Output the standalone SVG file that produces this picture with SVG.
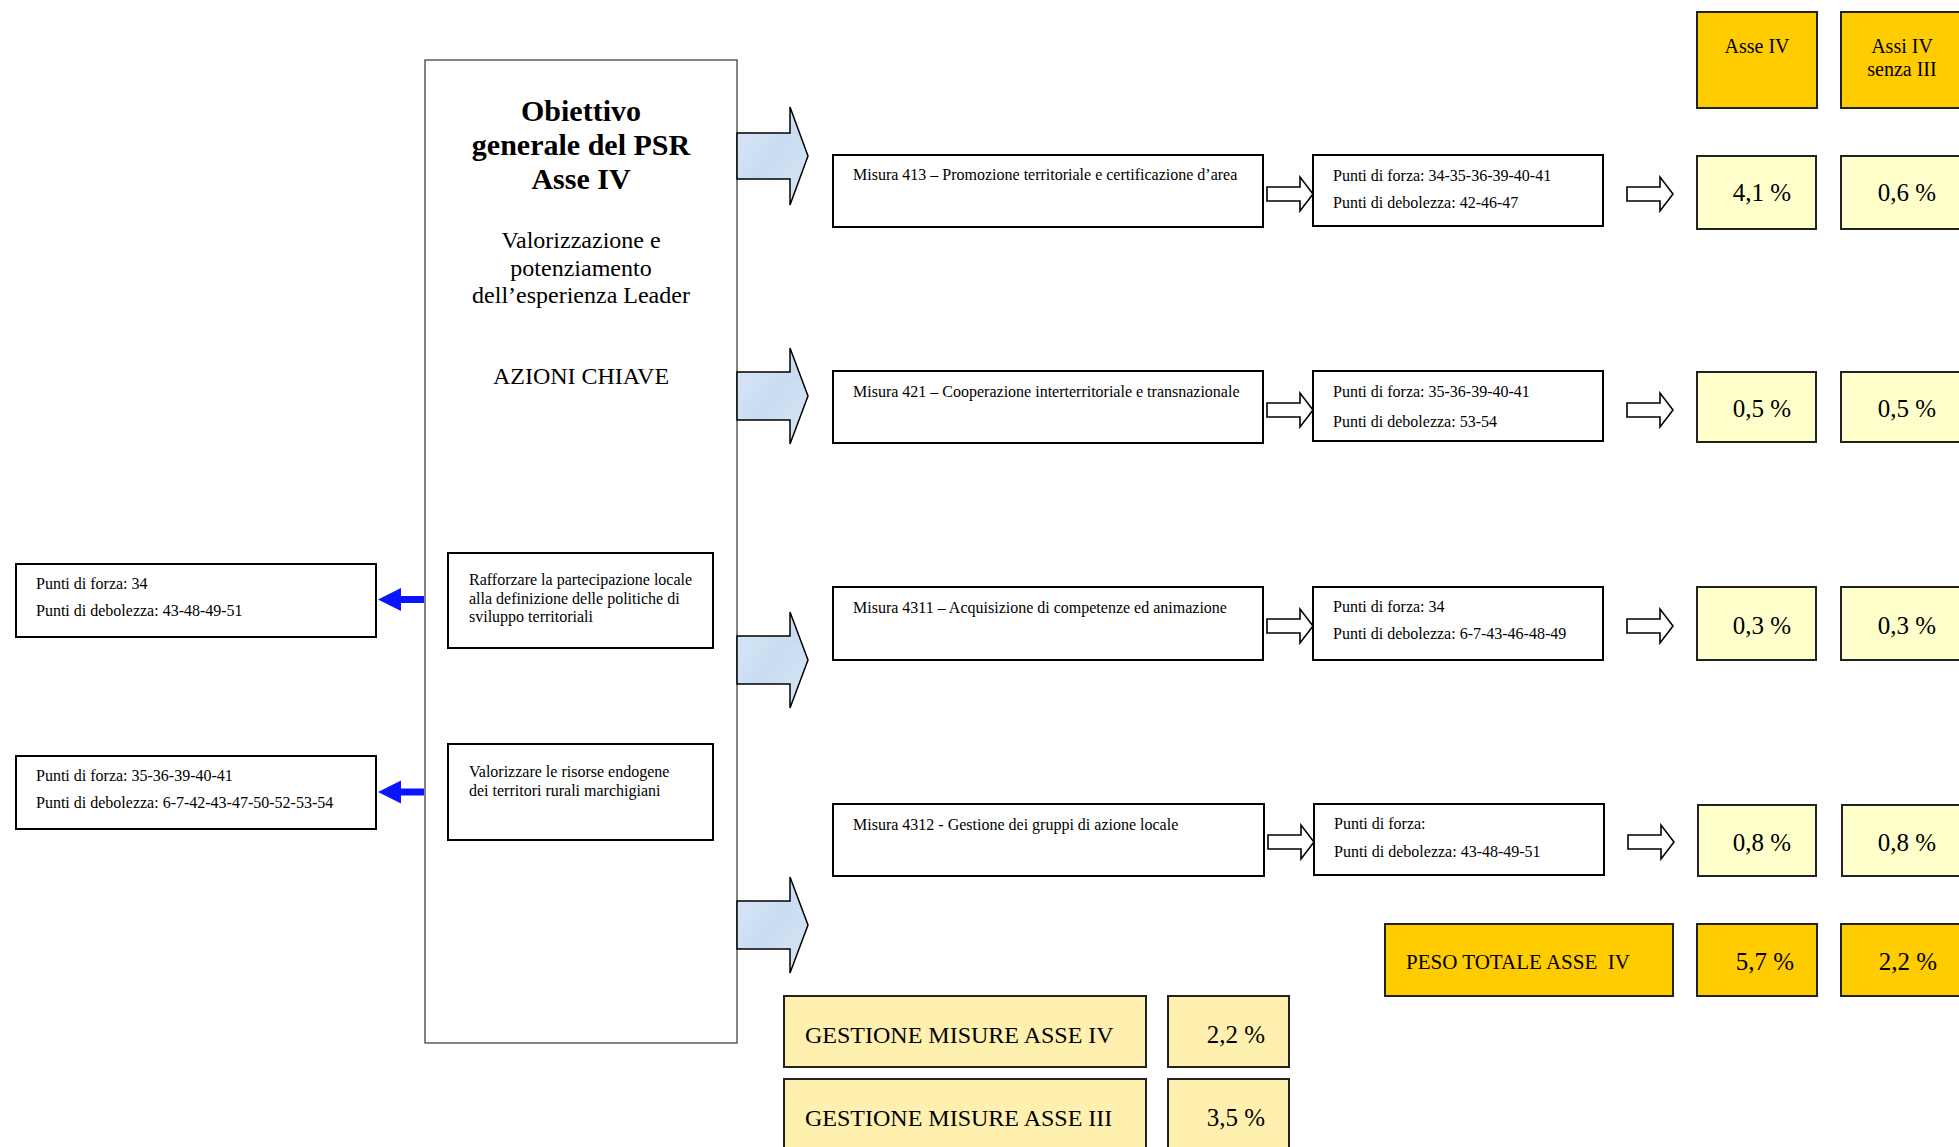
<svg xmlns="http://www.w3.org/2000/svg" width="1959" height="1147" viewBox="0 0 1959 1147">
<defs>
<linearGradient id="blu" x1="0" y1="0" x2="1" y2="1">
<stop offset="0" stop-color="#dce9f7"/>
<stop offset="0.5" stop-color="#c9dcf1"/>
<stop offset="1" stop-color="#d8e6f5"/>
</linearGradient>
</defs>
<style>
text{font-family:"Liberation Serif","Times New Roman",serif;fill:#000}
.box{fill:#fff;stroke:#000;stroke-width:2}
.main{fill:#fff;stroke:#444;stroke-width:1.3}
.org{fill:#ffcc00;stroke:#222;stroke-width:2}
.ly{fill:#ffffcc;stroke:#222;stroke-width:2}
.gy{fill:#fff0b0;stroke:#222;stroke-width:2}
.big{fill:url(#blu);stroke:#000;stroke-width:1.5;stroke-linejoin:miter}
.sm{fill:#fff;stroke:#000;stroke-width:1.6}
.bl{fill:#0a14ff;stroke:none}
.t16{font-size:16px}
.t24{font-size:24px}
.t25{font-size:25px}
.t20{font-size:20px}
.mid{text-anchor:middle}
</style>

<g id="main-node">
<rect class="main" x="425" y="60" width="312" height="983"/>
<text class="mid" x="581" y="121" font-size="30" font-weight="bold">Obiettivo</text>
<text class="mid" x="581" y="155" font-size="30" font-weight="bold">generale del PSR</text>
<text class="mid" x="581" y="189" font-size="30" font-weight="bold">Asse IV</text>
<text class="mid t24" x="581" y="248">Valorizzazione e</text>
<text class="mid t24" x="581" y="276">potenziamento</text>
<text class="mid t24" x="581" y="303">dell’esperienza Leader</text>
<text class="mid t24" x="581" y="384">AZIONI CHIAVE</text>
</g>

<g id="azione-1">
<rect class="box" x="448" y="553" width="265" height="95"/>
<text class="t16" x="469" y="585">Rafforzare la partecipazione locale</text>
<text class="t16" x="469" y="603.5">alla definizione delle politiche di</text>
<text class="t16" x="469" y="622">sviluppo territoriali</text>
</g>
<g id="azione-2">
<rect class="box" x="448" y="744" width="265" height="96"/>
<text class="t16" x="469" y="777">Valorizzare le risorse endogene</text>
<text class="t16" x="469" y="796">dei territori rurali marchigiani</text>
</g>

<g id="punti-azione-1">
<rect class="box" x="16" y="564" width="360" height="73"/>
<text class="t16" x="36" y="589">Punti di forza: 34</text>
<text class="t16" x="36" y="616">Punti di debolezza: 43-48-49-51</text>
</g>
<g id="punti-azione-2">
<rect class="box" x="16" y="756" width="360" height="73"/>
<text class="t16" x="36" y="781">Punti di forza: 35-36-39-40-41</text>
<text class="t16" x="36" y="808">Punti di debolezza: 6-7-42-43-47-50-52-53-54</text>
</g>

<g id="misura-413">
<rect class="box" x="833" y="155" width="430" height="72"/>
<text class="t16" x="853" y="180">Misura 413 – Promozione territoriale e certificazione d’area</text>
</g>
<g id="misura-421">
<rect class="box" x="833" y="371" width="430" height="72"/>
<text class="t16" x="853" y="397">Misura 421 – Cooperazione interterritoriale e transnazionale</text>
</g>
<g id="misura-4311">
<rect class="box" x="833" y="587" width="430" height="73"/>
<text class="t16" x="853" y="613">Misura 4311 – Acquisizione di competenze ed animazione</text>
</g>
<g id="misura-4312">
<rect class="box" x="833" y="804" width="431" height="72"/>
<text class="t16" x="853" y="830">Misura 4312 - Gestione dei gruppi di azione locale</text>
</g>

<g id="punti-413">
<rect class="box" x="1313" y="155" width="290" height="71"/>
<text class="t16" x="1333" y="181">Punti di forza: 34-35-36-39-40-41</text>
<text class="t16" x="1333" y="207.5">Punti di debolezza: 42-46-47</text>
</g>
<g id="punti-421">
<rect class="box" x="1313" y="371" width="290" height="70"/>
<text class="t16" x="1333" y="397">Punti di forza: 35-36-39-40-41</text>
<text class="t16" x="1333" y="426.5">Punti di debolezza: 53-54</text>
</g>
<g id="punti-4311">
<rect class="box" x="1313" y="587" width="290" height="73"/>
<text class="t16" x="1333" y="612">Punti di forza: 34</text>
<text class="t16" x="1333" y="639">Punti di debolezza: 6-7-43-46-48-49</text>
</g>
<g id="punti-4312">
<rect class="box" x="1314" y="804" width="290" height="71"/>
<text class="t16" x="1334" y="829">Punti di forza:</text>
<text class="t16" x="1334" y="857">Punti di debolezza: 43-48-49-51</text>
</g>

<g id="head-asse-iv">
<rect class="org" x="1697" y="12" width="120" height="96"/>
<text class="mid t20" x="1757" y="53">Asse IV</text>
</g>
<g id="head-assi-iv">
<rect class="org" x="1841" y="12" width="125" height="96"/>
<text class="mid t20" x="1902" y="53">Assi IV</text>
<text class="mid t20" x="1902" y="76">senza III</text>
</g>

<g id="pct-413-a"><rect class="ly" x="1697" y="156" width="119" height="73"/><text class="mid t25" x="1762" y="201">4,1 %</text></g>
<g id="pct-413-b"><rect class="ly" x="1841" y="156" width="125" height="73"/><text class="mid t25" x="1907" y="201">0,6 %</text></g>
<g id="pct-421-a"><rect class="ly" x="1697" y="372" width="119" height="70"/><text class="mid t25" x="1762" y="417">0,5 %</text></g>
<g id="pct-421-b"><rect class="ly" x="1841" y="372" width="125" height="70"/><text class="mid t25" x="1907" y="417">0,5 %</text></g>
<g id="pct-4311-a"><rect class="ly" x="1697" y="587" width="119" height="73"/><text class="mid t25" x="1762" y="634">0,3 %</text></g>
<g id="pct-4311-b"><rect class="ly" x="1841" y="587" width="125" height="73"/><text class="mid t25" x="1907" y="634">0,3 %</text></g>
<g id="pct-4312-a"><rect class="ly" x="1698" y="805" width="118" height="71"/><text class="mid t25" x="1762" y="851">0,8 %</text></g>
<g id="pct-4312-b"><rect class="ly" x="1842" y="805" width="125" height="71"/><text class="mid t25" x="1907" y="851">0,8 %</text></g>

<g id="peso-totale">
<rect class="org" x="1385" y="924" width="288" height="72"/>
<text x="1406" y="969" font-size="21" style="white-space:pre">PESO TOTALE ASSE  IV</text>
</g>
<g id="peso-a"><rect class="org" x="1697" y="924" width="120" height="72"/><text class="mid t25" x="1765" y="970">5,7 %</text></g>
<g id="peso-b"><rect class="org" x="1841" y="924" width="125" height="72"/><text class="mid t25" x="1908" y="970">2,2 %</text></g>

<g id="gestione-iv">
<rect class="gy" x="784" y="996" width="362" height="71"/>
<text class="t24" x="805" y="1043">GESTIONE MISURE ASSE IV</text>
</g>
<g id="gestione-iv-pct"><rect class="gy" x="1168" y="996" width="121" height="71"/><text class="mid t25" x="1236" y="1043">2,2 %</text></g>
<g id="gestione-iii">
<rect class="gy" x="784" y="1079" width="362" height="80"/>
<text class="t24" x="805" y="1126">GESTIONE MISURE ASSE III</text>
</g>
<g id="gestione-iii-pct"><rect class="gy" x="1168" y="1079" width="121" height="80"/><text class="mid t25" x="1236" y="1126">3,5 %</text></g>

<g id="connectors">
<path class="big" d="M737,133 H790 V107 L808,156 L790,205 V179 H737 Z"/>
<path class="big" d="M737,372 H790 V348 L808,396 L790,444 V420 H737 Z"/>
<path class="big" d="M737,636 H790 V612 L808,660 L790,708 V684 H737 Z"/>
<path class="big" d="M737,901 H790 V877 L808,925 L790,973 V949 H737 Z"/>

<path class="sm" d="M1267,187 H1300 V177 L1313,194 L1300,211 V201 H1267 Z"/>
<path class="sm" d="M1267,403 H1300 V393 L1313,410 L1300,427 V417 H1267 Z"/>
<path class="sm" d="M1267,619 H1300 V609 L1313,626 L1300,643 V633 H1267 Z"/>
<path class="sm" d="M1268,835 H1301 V825 L1314,842 L1301,859 V849 H1268 Z"/>

<path class="sm" d="M1627,187 H1660 V177 L1673,194 L1660,211 V201 H1627 Z"/>
<path class="sm" d="M1627,403 H1660 V393 L1673,410 L1660,427 V417 H1627 Z"/>
<path class="sm" d="M1627,619 H1660 V609 L1673,626 L1660,643 V633 H1627 Z"/>
<path class="sm" d="M1628,835 H1661 V825 L1674,842 L1661,859 V849 H1628 Z"/>

<path class="bl" d="M424,596 H401 V588 L378,599.5 L401,611 V603 H424 Z"/>
<path class="bl" d="M424,788.5 H401 V780.5 L378,792 L401,803.5 V795.5 H424 Z"/>
</g>
</svg>
